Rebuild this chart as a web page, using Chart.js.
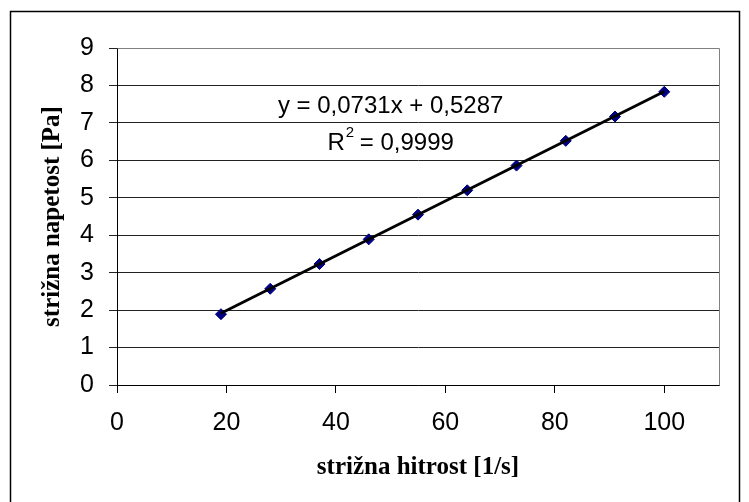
<!DOCTYPE html>
<html>
<head>
<meta charset="utf-8">
<script src="https://cdn.jsdelivr.net/npm/chart.js@4.4.1/dist/chart.umd.min.js"></script>
<style>
  html, body { margin: 0; padding: 0; background: #fff; }
  #wrap { width: 749px; height: 502px; position: relative; }
</style>
</head>
<body>
<div id="wrap"><canvas id="chartcanvas"></canvas></div>
<script>
// measured points
var shearRate = [19, 28, 37, 46, 55, 64, 73, 82, 91, 100];
var shearStress = [1.89, 2.57, 3.23, 3.89, 4.55, 5.2, 5.86, 6.52, 7.17, 7.83];

// linear trendline end points
var trendX = [19, 100];
var trendY = [1.918, 7.839];

// x axis ticks (axis runs on to 110 without a label)
var xTicks = [0, 20, 40, 60, 80, 100];

var equationText = "y = 0,0731x + 0,5287";
var r2Text = " = 0,9999";

var tickFont = { family: "'Liberation Sans', Arial, sans-serif", size: 25 };
var titleFont = { family: "'Liberation Serif', 'Times New Roman', serif", size: 25, weight: "bold" };

// frame around the whole picture and around the plot area
var framePlugin = {
    id: "frame",
    beforeDraw: function (chart) {
        var ctx = chart.ctx;
        ctx.save();
        ctx.fillStyle = "#fff";
        ctx.fillRect(0, 0, chart.width, chart.height);
        ctx.restore();
    },
    afterDraw: function (chart) {
        var ctx = chart.ctx, a = chart.chartArea;
        ctx.save();
        ctx.strokeStyle = "#000";
        ctx.lineWidth = 1.5;
        ctx.strokeRect(10.5, 11.5, 729, 505);
        ctx.strokeStyle = "#808080";
        ctx.lineWidth = 1;
        ctx.beginPath();
        ctx.moveTo(Math.round(a.left) + 0.5, Math.round(a.top) + 0.5);
        ctx.lineTo(Math.round(a.right) + 0.5, Math.round(a.top) + 0.5);
        ctx.lineTo(Math.round(a.right) + 0.5, Math.round(a.bottom) + 0.5);
        ctx.stroke();

        // trendline label
        var xs = chart.scales.x, ys = chart.scales.y;
        var cx = xs.getPixelForValue(50);
        var big = "24px 'Liberation Sans', Arial, sans-serif";
        var small = "15px 'Liberation Sans', Arial, sans-serif";
        ctx.fillStyle = "#000";
        ctx.font = big;
        ctx.textAlign = "center";
        ctx.textBaseline = "middle";
        ctx.fillText(equationText, cx, ys.getPixelForValue(7.45));

        var y2 = ys.getPixelForValue(6.45);
        var wR = ctx.measureText("R").width;
        ctx.font = small;
        var w2 = ctx.measureText("2").width;
        ctx.font = big;
        var wRest = ctx.measureText(r2Text).width;
        var x0 = cx - (wR + w2 + wRest) / 2;
        ctx.textAlign = "left";
        ctx.fillText("R", x0, y2);
        ctx.fillText(r2Text, x0 + wR + w2, y2);
        ctx.font = small;
        ctx.fillText("2", x0 + wR + 1, y2 - 11);
        ctx.restore();
    }
};

var ctx = document.getElementById("chartcanvas");

var chart = new Chart(ctx, {
    type: "scatter",
    data: {
        datasets: [
            {
                label: "trend",
                type: "line",
                data: trendX.map(function (x, i) { return { x: x, y: trendY[i] }; }),
                borderColor: "#000",
                borderWidth: 2.8,
                pointRadius: 0,
                fill: false,
                order: 1
            },
            {
                label: "measured",
                data: shearRate.map(function (x, i) { return { x: x, y: shearStress[i] }; }),
                pointStyle: "rectRot",
                pointRadius: 5.5,
                backgroundColor: "#000080",
                borderColor: "#000080",
                borderWidth: 1,
                order: 2
            }
        ]
    },
    options: {
        responsive: true,
        maintainAspectRatio: false,
        animation: false,
        layout: { padding: { left: 38, right: 30, top: 48, bottom: 19 } },
        plugins: {
            legend: { display: false },
            tooltip: { enabled: false }
        },
        scales: {
            x: {
                type: "linear",
                min: 0,
                max: 110,
                afterBuildTicks: function (scale) {
                    scale.ticks = xTicks.map(function (v) { return { value: v }; });
                },
                afterFit: function (scale) { scale.height = 98; },
                ticks: { autoSkip: false, color: "#000", font: tickFont, padding: 15, maxRotation: 0 },
                grid: { drawOnChartArea: false, drawTicks: true, tickLength: 8, color: "#000" },
                border: { color: "#000", width: 1 },
                title: { display: true, text: "strižna hitrost [1/s]", color: "#000", font: titleFont, padding: 0 }
            },
            y: {
                min: 0,
                max: 9,
                afterFit: function (scale) { scale.width = 79; },
                ticks: { stepSize: 1, autoSkip: false, color: "#000", font: tickFont, padding: 15 },
                grid: { color: "#222", lineWidth: 1, tickLength: 8 },
                border: { color: "#000", width: 1 },
                title: { display: true, text: "strižna napetost [Pa]", color: "#000", font: titleFont, padding: 0 }
            }
        }
    },
    plugins: [framePlugin]
});
</script>
</body>
</html>
